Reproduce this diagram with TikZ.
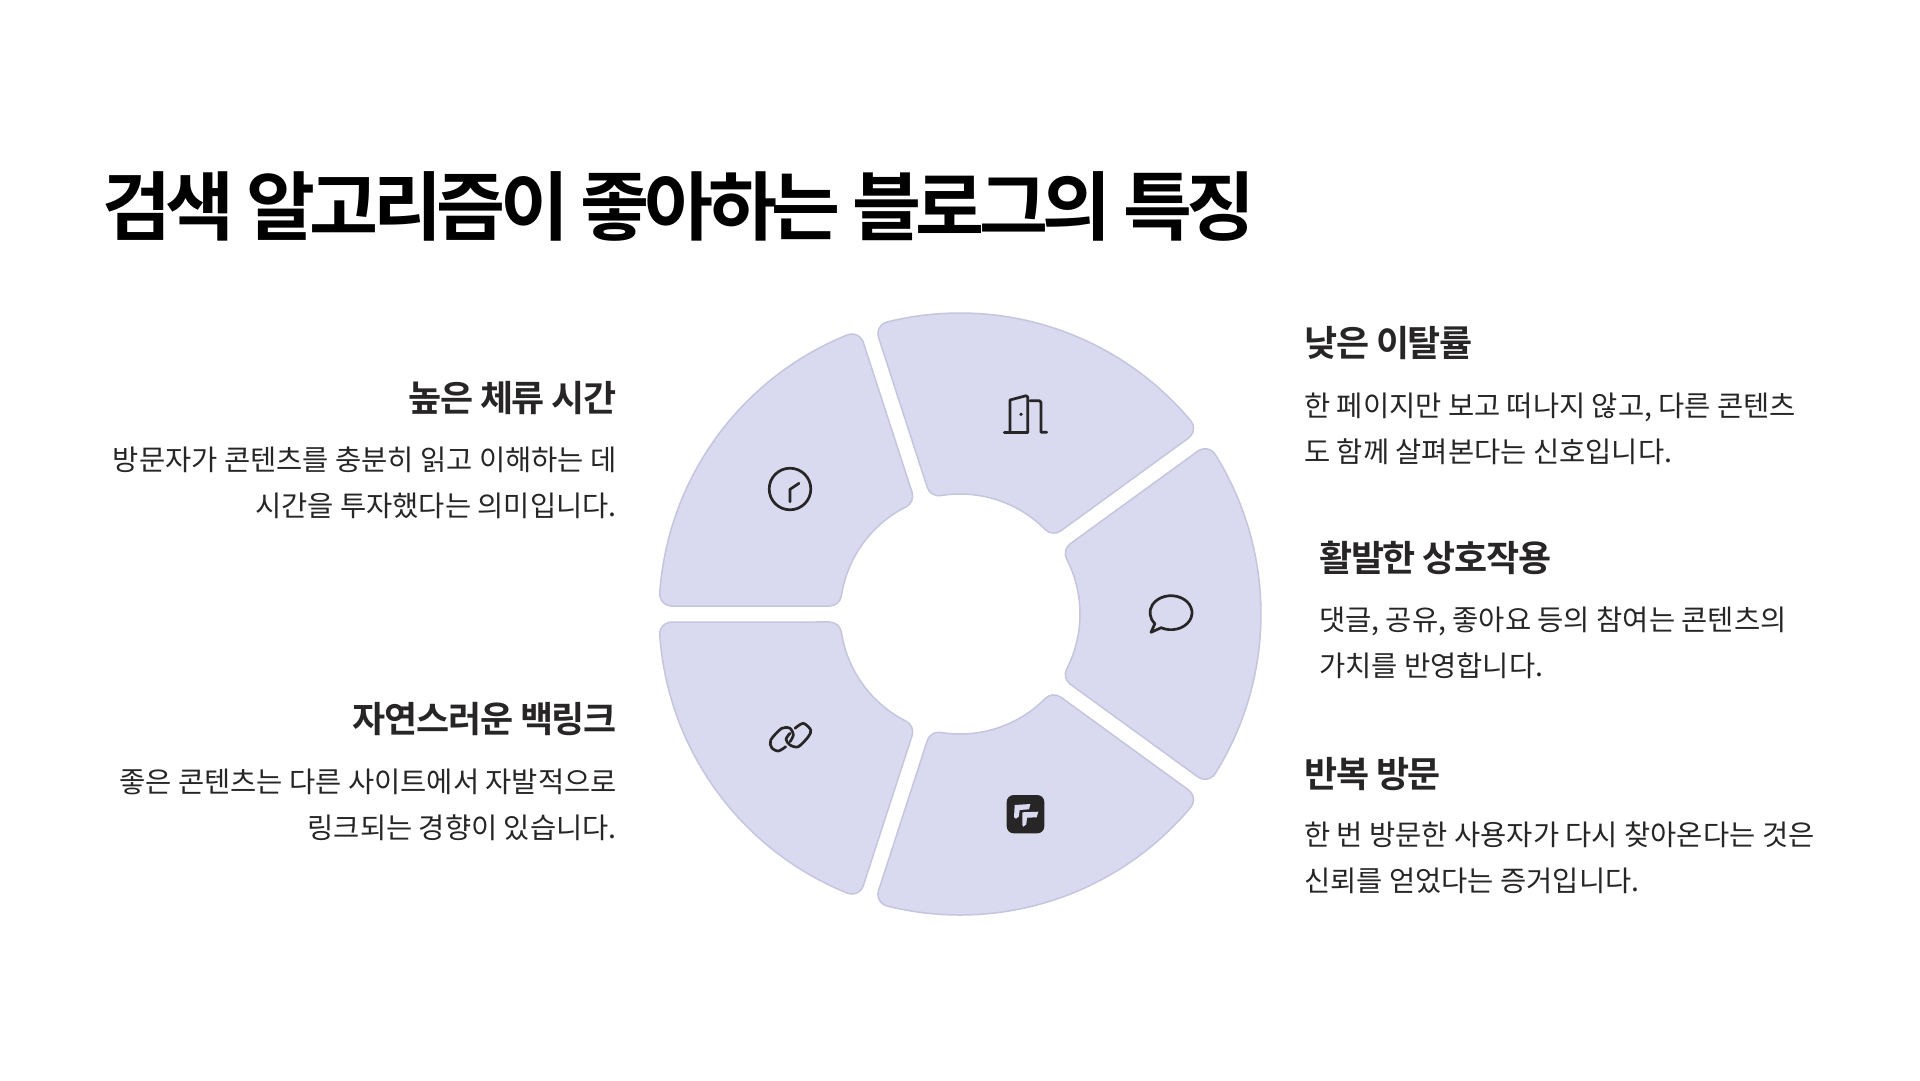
\documentclass[tikz,border=0pt]{standalone}
\usepackage{fontspec}
\setmainfont{Noto Sans CJK KR}
\newfontfamily\titlefont[BoldFont=* Bold,LetterSpace=-7.3]{Noto Sans CJK KR}
\newfontfamily\headfont[BoldFont=* Bold,LetterSpace=-3.6]{Noto Sans CJK KR}
\newfontfamily\bodyfont{Noto Sans CJK KR}
\definecolor{segfill}{RGB}{217,217,239}
\definecolor{segline}{RGB}{197,197,222}
\definecolor{ink}{RGB}{39,37,37}
\tikzset{
  seg/.style={fill=segfill,draw=segline,line width=1.5pt},
  icon/.style={draw=ink,line width=2.7pt,line cap=round,line join=round},
  titletext/.style={inner sep=0pt,anchor=base west,text=black,font=\titlefont\bfseries\fontsize{75}{75}\selectfont},
  headr/.style={inner sep=0pt,anchor=base east,text=ink,font=\headfont\bfseries\fontsize{36}{46}\selectfont},
  headl/.style={inner sep=0pt,anchor=base west,text=ink,font=\headfont\bfseries\fontsize{36}{46}\selectfont},
  bodyr/.style={inner sep=0pt,anchor=north east,align=right,text=ink,font=\bodyfont\fontsize{28.5}{46}\selectfont},
  bodyl/.style={inner sep=0pt,anchor=north west,align=left,text=ink,font=\bodyfont\fontsize{28.5}{46}\selectfont},
}
\begin{document}
\begin{tikzpicture}[x=1pt,y=1pt,yscale=-1]
\useasboundingbox (0,0) rectangle (1920,1080);
\def\ThO{32.03}
\def\ThI{27.29}
\foreach \a in {0,72,144,216,288}{
  \draw[seg] ([shift={(960,614)}]\a-\ThO:301pt)
    arc[start angle=\a-\ThO,end angle=\a+\ThO,radius=301pt]
    arc[start angle=\a+\ThO,end angle=\a+126,radius=12pt]
    -- ([shift={(960,614)},shift={(\a+\ThI:132pt)}]\a+126:12pt)
    arc[start angle=\a+126,end angle=\a+\ThI+180,radius=12pt]
    arc[start angle=\a+\ThI,end angle=\a-\ThI,radius=120pt]
    arc[start angle=\a-\ThI+180,end angle=\a+234,radius=12pt]
    -- ([shift={(960,614)},shift={(\a-\ThO:289pt)}]\a-126:12pt)
    arc[start angle=\a-126,end angle=\a-\ThO,radius=12pt]
    -- cycle;
}
% clock
\draw[icon] (790,489) circle[radius=20.8pt];
\draw[icon] (790,501.7) -- (790,489.3) -- (799,483.3);
% door
\draw[icon] (1004.3,432.3) -- (1027.7,432.3);
\draw[icon] (1010,432.3) -- (1010,400) -- (1026,395.7) -- (1027.7,397) -- (1027.7,432.3);
\draw[icon] (1030,400.7) -- (1039.3,400.7) -- (1041,402.3) -- (1041,432.3) -- (1046.7,432.3);
\fill[ink] (1021,414.3) circle[radius=1.8pt];
% speech bubble
\draw[icon] ({1171+21*cos(118)},{612.7+17*sin(118)})
  arc[start angle=118,end angle=-220,x radius=21pt,y radius=17pt]
  -- (1151,632.3) -- cycle;
% link
\draw[icon] plot[smooth] coordinates {(785.7,746.7) (778.3,751) (771.7,747.7) (770.7,740) (781.7,728.3) (790,728.3) (793.3,735) (790,741.7)};
\draw[icon] plot[smooth] coordinates {(795,728.3) (803.3,723.3) (810.7,730) (808.3,736.7) (798.3,746.7) (790,745) (786,739.3) (790,733.3)};
% app square
\fill[ink,rounded corners=7pt] (1006.7,795) rectangle (1044.3,833.3);
\fill[segfill] (1014.7,805) -- (1030.3,804) -- (1029,809.3) -- (1019.7,810) -- (1018.7,816.7) -- (1016,818.7) -- (1014,817.3) -- cycle;
\fill[segfill] (1022.3,812.3) -- (1038.3,811.7) -- (1036.7,817.3) -- (1027,817.7) -- (1026.3,824.3) -- (1023.3,826.7) -- (1022.3,825) -- cycle;
% texts
\node[titletext] (title) at (102,234) {검색 알고리즘이 좋아하는 블로그의 특징};
\node[headr] (h1) at (617,411) {높은 체류 시간};
\node[bodyr] (b1) at (617,446.5) {방문자가 콘텐츠를 충분히 읽고 이해하는 데\\시간을 투자했다는 의미입니다.};
\node[headr] (h2) at (617,732) {자연스러운 백링크};
\node[bodyr] (b2) at (617,768.5) {좋은 콘텐츠는 다른 사이트에서 자발적으로\\링크되는 경향이 있습니다.};
\node[headl] (h3) at (1304,356) {낮은 이탈률};
\node[bodyl] (b3) at (1304,392.5) {한 페이지만 보고 떠나지 않고, 다른 콘텐츠\\도 함께 살펴본다는 신호입니다.};
\node[headl] (h4) at (1319,571) {활발한 상호작용};
\node[bodyl] (b4) at (1319,607) {댓글, 공유, 좋아요 등의 참여는 콘텐츠의\\가치를 반영합니다.};
\node[headl] (h5) at (1304,787) {반복 방문};
\node[bodyl] (b5) at (1304,822) {한 번 방문한 사용자가 다시 찾아온다는 것은\\신뢰를 얻었다는 증거입니다.};
\end{tikzpicture}
\end{document}
